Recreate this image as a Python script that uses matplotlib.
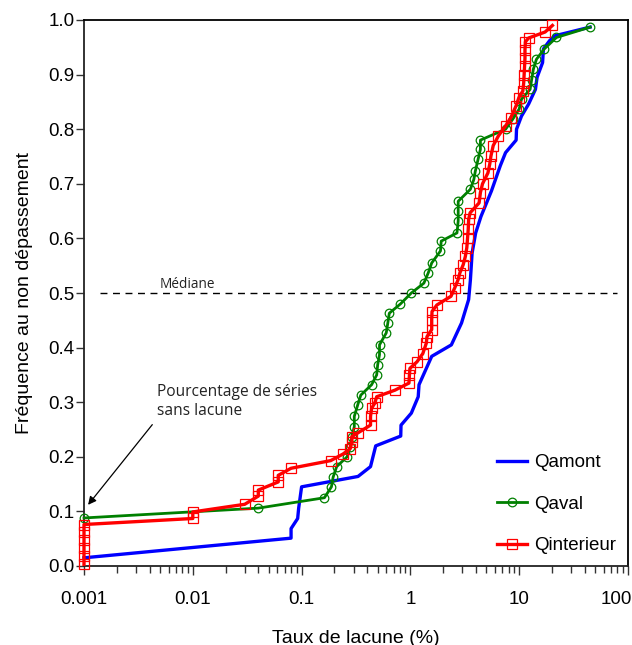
import matplotlib
matplotlib.use('Agg')
import matplotlib.pyplot as plt
from matplotlib.ticker import LogLocator, NullFormatter
from matplotlib.transforms import ScaledTranslation
import numpy as np

# ---------------- data ----------------
amont_x = [0.001, 0.08, 0.08, 0.092, 0.094, 0.10, 0.33, 0.43, 0.48, 0.815, 0.82, 1.02, 1.18, 1.2,
           1.57, 2.38, 2.95, 3.43, 3.56, 3.69, 3.98, 4.45, 5.56, 6.7, 7.49, 9.37, 9.45, 10.5,
           12.2, 14.1, 14.6, 16.4, 16.7, 19.0, 21.2, 44.8]
amont_f = [0.015, 0.051, 0.0685, 0.087, 0.106, 0.145, 0.164, 0.182, 0.22, 0.238, 0.258, 0.28,
           0.31, 0.332, 0.384, 0.405, 0.445, 0.488, 0.524, 0.573, 0.61, 0.64, 0.687, 0.733,
           0.757, 0.78, 0.80, 0.824, 0.846, 0.873, 0.895, 0.922, 0.947, 0.962, 0.971, 0.987]

aval_x = [0.001, 0.040, 0.162, 0.188, 0.195, 0.21, 0.262, 0.28, 0.29, 0.305, 0.305, 0.328, 0.35,
          0.44, 0.49, 0.50, 0.52, 0.52, 0.60, 0.62, 0.64, 0.81, 1.02, 1.33, 1.46, 1.57, 1.89,
          1.92, 2.68, 2.75, 2.75, 2.75, 3.56, 3.83, 3.95, 4.19, 4.4, 4.4, 7.5, 8.7, 10.0, 10.5,
          12.6, 13.0, 13.5, 14.4, 17.0, 22.0, 45.0]
aval_f = [0.088, 0.106, 0.125, 0.145, 0.163, 0.182, 0.20, 0.218, 0.237, 0.255, 0.274, 0.295,
          0.313, 0.332, 0.35, 0.368, 0.387, 0.405, 0.427, 0.445, 0.463, 0.48, 0.50, 0.518,
          0.537, 0.555, 0.577, 0.595, 0.61, 0.632, 0.65, 0.668, 0.69, 0.708, 0.723, 0.745,
          0.763, 0.78, 0.80, 0.818, 0.837, 0.855, 0.873, 0.89, 0.91, 0.928, 0.947, 0.968, 0.987]

int_x = [0.001, 0.001, 0.001, 0.001, 0.001, 0.001, 0.01, 0.01, 0.030, 0.040, 0.040, 0.061,
         0.061, 0.08, 0.185, 0.24, 0.28, 0.29, 0.29, 0.33, 0.43, 0.43, 0.44, 0.47, 0.49, 0.72,
         0.97, 0.98, 0.99, 1.15, 1.3, 1.4, 1.42, 1.57, 1.57, 1.58, 1.75, 2.36, 2.55, 2.74, 2.85,
         3.06, 3.2, 3.3, 3.35, 3.4, 3.43, 3.54, 4.28, 4.4, 4.6, 5.16, 5.36, 5.5, 5.77, 6.45,
         7.49, 8.37, 9.37, 9.94, 10.8, 11.0, 11.1, 11.2, 11.3, 11.3, 11.4, 12.2, 17.3, 20.2]
int_f = [0.003, 0.018, 0.033, 0.048, 0.063, 0.076, 0.087, 0.099, 0.113, 0.128, 0.139, 0.154,
         0.166, 0.179, 0.193, 0.205, 0.215, 0.228, 0.237, 0.244, 0.258, 0.274, 0.289, 0.298,
         0.31, 0.322, 0.335, 0.35, 0.362, 0.374, 0.389, 0.408, 0.42, 0.433, 0.451, 0.466,
         0.478, 0.494, 0.509, 0.524, 0.537, 0.552, 0.567, 0.583, 0.60, 0.617, 0.635, 0.647,
         0.665, 0.684, 0.70, 0.72, 0.736, 0.751, 0.77, 0.788, 0.806, 0.821, 0.843, 0.858,
         0.87, 0.885, 0.90, 0.915, 0.93, 0.945, 0.96, 0.967, 0.978, 0.99]

series_names = ['Qamont', 'Qaval', 'Qinterieur']
x_ticks = [0.001, 0.01, 0.1, 1, 10, 100]
x_ticklabels = ['0.001', '0.01', '0.1', '1', '10', '100']
y_ticks = [0.0, 0.1, 0.2, 0.3, 0.4, 0.5, 0.6, 0.7, 0.8, 0.9, 1.0]
y_ticklabels = ['%.1f' % v for v in y_ticks]
median_level = 0.5

# ---------------- figure ----------------
plt.rcParams['font.family'] = ['Liberation Sans', 'DejaVu Sans']

fig = plt.figure(figsize=(6.32, 6.45), dpi=100)
ax = fig.add_axes([84 / 632, 1 - 566 / 645, 544 / 632, 546 / 645])

ax.plot(amont_x, amont_f, color='#0000ff', lw=2.4, label=series_names[0],
        clip_on=False, zorder=3)
ax.plot(aval_x, aval_f, color='#008000', lw=2.0, marker='o', ms=6.2, mfc='none',
        mec='#008000', mew=0.9, label=series_names[1], clip_on=False, zorder=4)
ax.plot(int_x, int_f, color='#ff0000', lw=2.4, marker='s', ms=7, mfc='none',
        mec='#ff0000', mew=0.9, label=series_names[2], clip_on=False, zorder=5)

ax.axhline(median_level, xmin=0.029, xmax=0.98, color='black', lw=1.0,
           ls=(0, (5, 4)), zorder=2)

ax.set_xscale('log')
ax.set_xlim(x_ticks[0], x_ticks[-1])
ax.set_ylim(0, 1)
ax.set_xticks(x_ticks)
ax.set_xticklabels(x_ticklabels)
ax.xaxis.set_minor_locator(LogLocator(base=10, subs=np.arange(2, 10)))
ax.xaxis.set_minor_formatter(NullFormatter())
ax.set_yticks(y_ticks)
ax.set_yticklabels(y_ticklabels)

ax.tick_params(axis='x', which='major', direction='out', length=6.5, width=1.0,
               pad=11.5, labelsize=13.5, top=False, color='#333333')
ax.tick_params(axis='x', which='minor', direction='out', length=5, width=1.0,
               top=False, color='#333333')
ax.tick_params(axis='y', which='major', direction='out', length=5.5, width=1.0,
               pad=1.5, labelsize=13.5, right=False, color='#333333')

# keep the last x tick label inside the canvas
last_lbl = ax.get_xticklabels()[-1]
last_lbl.set_transform(last_lbl.get_transform() +
                       ScaledTranslation(-0.12, 0, fig.dpi_scale_trans))

for side, sp in ax.spines.items():
    sp.set_linewidth(1.3)
    sp.set_color('#222222' if side in ('left', 'bottom') else 'black')

ax.set_xlabel('Taux de lacune (%)', fontsize=14, labelpad=15.5)
ax.set_ylabel('Fréquence au non dépassement', fontsize=14, labelpad=10.5)

ax.text(0.005, 0.516, 'Médiane', fontsize=9.8, family=['Open Sans', 'DejaVu Sans'],
        ha='left', va='center', color='#222222')

ax.annotate('Pourcentage de séries\nsans lacune', xy=(0.00109, 0.112),
            xytext=(0.0047, 0.302), textcoords='data', ha='left', va='center',
            fontsize=11.2, family=['Open Sans', 'DejaVu Sans'], linespacing=1.25,
            color='#222222',
            arrowprops=dict(arrowstyle='-|>', color='black', lw=0.9, shrinkA=3,
                            shrinkB=0, mutation_scale=12, relpos=(0, 0)))

leg = ax.legend(loc='upper left', bbox_to_anchor=(0.759, 0.205), frameon=False,
                fontsize=13.5, handlelength=1.6, handletextpad=0.4, labelspacing=1.3,
                borderaxespad=0, borderpad=0)

fig.savefig('out.png', dpi=100)
